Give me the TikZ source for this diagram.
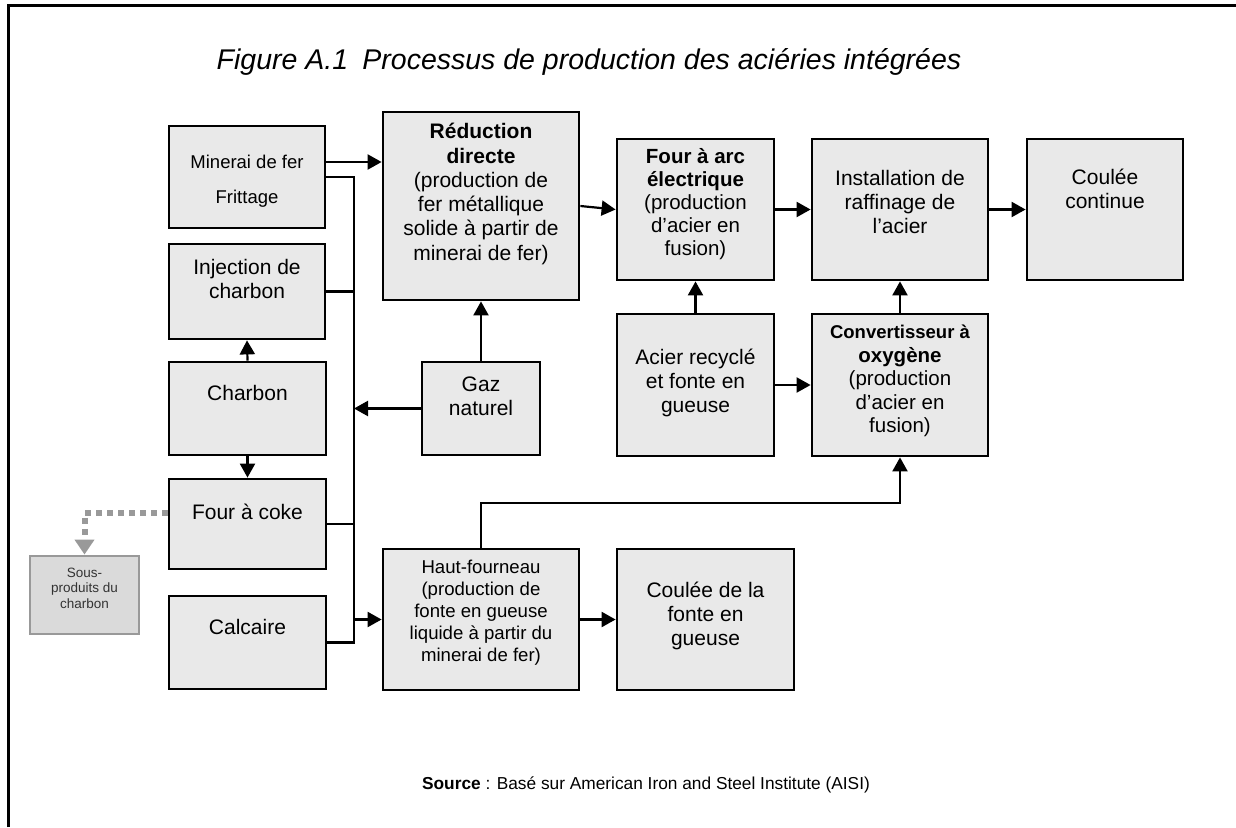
\documentclass[tikz,border=0pt]{standalone}
\usepackage{fontspec}
\setmainfont{Liberation Sans}
\usetikzlibrary{arrows.meta}
\definecolor{boxfill}{HTML}{E9E9E9}
\definecolor{sousfill}{HTML}{DADADA}
\tikzset{
  box/.style={draw=black, line width=2.8pt, fill=boxfill, inner sep=0pt},
  sousbox/.style={draw=black!40, line width=2.8pt, fill=sousfill, inner sep=0pt},
  txt/.style={align=center, inner sep=0pt, font=\fontsize{21}{24.3}\selectfont},
  ln/.style={line width=2.2pt},
  arr/.style={line width=2.2pt, -{Triangle[length=14pt,width=15pt]}},
  dotarr/.style={line width=6pt, draw=black!40, dash pattern=on 6pt off 5pt, -{Triangle[length=15pt,width=19pt,fill=black!40]}},
}
\begin{document}
\begin{tikzpicture}[x=1pt,y=-1pt]
\useasboundingbox (0,0) rectangle (1236,827);
% frame
\draw[line width=3pt] (8,827) -- (8,5) -- (1236,5);
% title
\node[font=\fontsize{28.5}{33}\selectfont\itshape, inner sep=0pt] (title) at (589,62) {Figure A.1\enspace Processus de production des aciéries intégrées};
% boxes
\node[box, minimum width=156pt, minimum height=102pt] (min) at (247,177) {};
\node[box, minimum width=156pt, minimum height=95pt] (inj) at (247,291.5) {};
\node[box, minimum width=157pt, minimum height=93pt] (charb) at (247.5,408.5) {};
\node[box, minimum width=157pt, minimum height=90pt] (coke) at (247.5,524) {};
\node[box, minimum width=157pt, minimum height=93pt] (calc) at (247.5,642.5) {};
\node[sousbox, minimum width=109pt, minimum height=78pt] (sous) at (84.5,595) {};
\node[box, minimum width=196pt, minimum height=188pt] (red) at (481,206) {};
\node[box, minimum width=118pt, minimum height=93pt] (gaz) at (481,408.5) {};
\node[box, minimum width=157pt, minimum height=141pt] (arc) at (695.5,209.5) {};
\node[box, minimum width=157pt, minimum height=142pt] (acier) at (695.5,385) {};
\node[box, minimum width=176pt, minimum height=141pt] (inst) at (900,209.5) {};
\node[box, minimum width=176pt, minimum height=142pt] (conv) at (900,385) {};
\node[box, minimum width=156pt, minimum height=141pt] (cont) at (1105,209.5) {};
\node[box, minimum width=196pt, minimum height=141pt] (haut) at (481,619.5) {};
\node[box, minimum width=177pt, minimum height=141pt] (fonte) at (705.5,619.5) {};
% texts
\node[txt, font=\fontsize{18.5}{22}\selectfont] (tmin1) at (247,162) {Minerai de fer};
\node[txt, font=\fontsize{18.5}{22}\selectfont] (tmin2) at (247,199) {Frittage};
\node[txt] (tinj) at (247,279) {Injection de\\charbon};
\node[txt] (tcharb) at (247.5,393) {Charbon};
\node[txt] (tcoke) at (247.5,512) {Four à coke};
\node[txt] (tcalc) at (247.5,627) {Calcaire};
\node[align=center, inner sep=0pt, text=black!80, font=\fontsize{13.5}{15.5}\selectfont] (tsous) at (84.5,588) {Sous-\\produits du\\charbon};
\node[txt] (tred) at (481,194) {\textbf{Réduction}\\\textbf{directe}\\(production de\\fer métallique\\solide à partir de\\minerai de fer)};
\node[txt] (tgaz) at (481,396) {Gaz\\naturel};
\node[txt, font=\fontsize{20.5}{23}\selectfont] (tarc) at (695.5,204) {\textbf{Four à arc}\\\textbf{électrique}\\(production\\d’acier en\\fusion)};
\node[txt] (tacier) at (695.5,383) {Acier recyclé\\et fonte en\\gueuse};
\node[txt] (tinst) at (900,202) {Installation de\\raffinage de\\l’acier};
\node[txt] (tcont) at (1105,189) {Coulée\\continue};
\node[txt, font=\fontsize{20.5}{23.5}\selectfont] (tconv) at (900,381) {{\fontsize{18.5}{23.5}\selectfont\textbf{Convertisseur à}}\\\textbf{oxygène}\\(production\\d’acier en\\fusion)};
\node[txt, font=\fontsize{18.6}{22}\selectfont] (thaut) at (481,613) {Haut-fourneau\\(production de\\fonte en gueuse\\liquide à partir du\\minerai de fer)};
\node[txt] (tfonte) at (705.5,616) {Coulée de la\\fonte en\\gueuse};
% source
\node[inner sep=0pt, font=\fontsize{17.3}{20}\selectfont] (src) at (646,785) {\textbf{Source} : Basé sur American Iron and Steel Institute (AISI)};
% bus
\coordinate (bt) at (354,177);
\coordinate (bb) at (354,642.5);
\draw[ln] (min.east) -- (bt) -- (bb) -- (calc.east);
\draw[ln] (inj.east) -- (inj.east -| bt);
\draw[ln] (coke.east) -- (coke.east -| bt);
\draw[arr] (gaz.west) -- (gaz.west -| bt);
\draw[arr] (haut.west -| bt) -- (haut.west);
\draw[arr] ([yshift=15pt]min.east) -- ([yshift=15pt]min.east -| red.west);
% left column
\draw[arr] (charb.north) -- (inj.south);
\draw[arr] (charb.south) -- (coke.north);
\draw[dotarr] ([yshift=11pt]coke.west) -- ([yshift=11pt]coke.west -| sous.north) -- (sous.north);
% main flow
\draw[arr] (gaz.north) -- (red.south);
\draw[arr] (red.east) -- (arc.west);
\draw[arr] (arc.east) -- (inst.west);
\draw[arr] (inst.east) -- (cont.west);
\draw[arr] (acier.north) -- (arc.south);
\draw[arr] (acier.east) -- (conv.west);
\draw[arr] (conv.north) -- (inst.south);
\coordinate (hk) at (481,503);
\draw[arr] (haut.north) -- (hk) -| (conv.south);
\draw[arr] (haut.east) -- (fonte.west);
\end{tikzpicture}
\end{document}
